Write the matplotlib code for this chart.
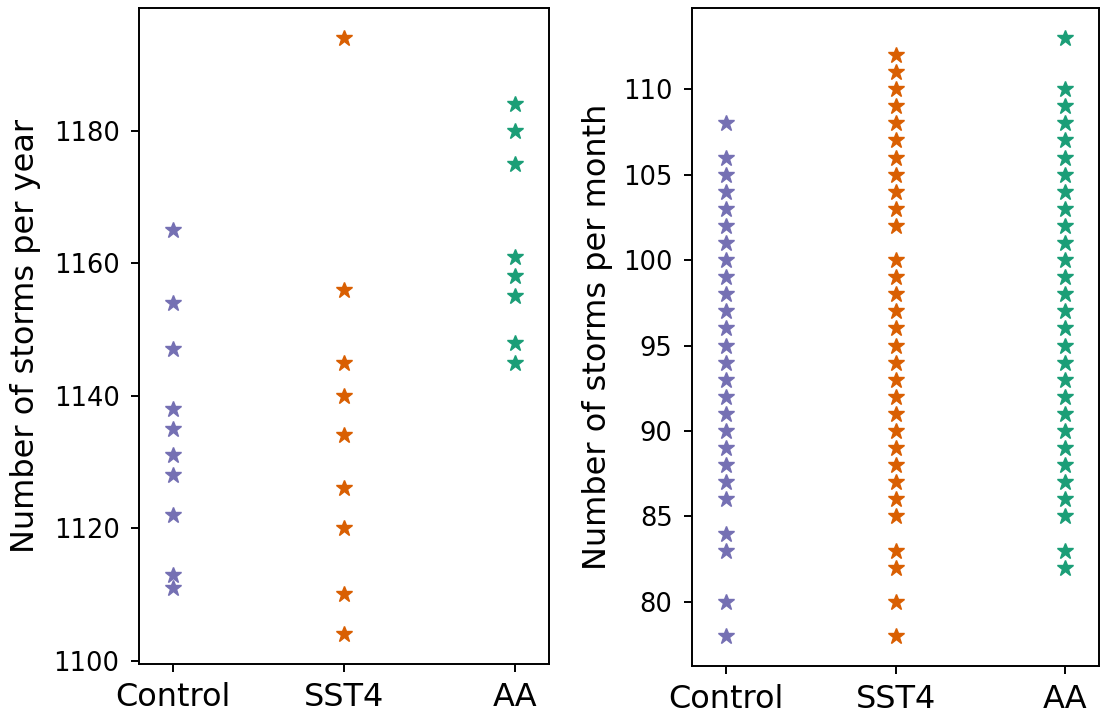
import matplotlib
matplotlib.use('Agg')
import matplotlib.pyplot as plt

runs = ['Control', 'SST4', 'AA']
colours = ['#7570b3', '#d95f02', '#1b9e77']

# storms per year
yearly_control = [1165, 1154, 1147, 1138, 1135, 1131, 1128, 1122, 1113, 1111]
yearly_sst4 = [1194, 1156, 1145, 1140, 1134, 1126, 1120, 1110, 1104]
yearly_aa = [1184, 1180, 1175, 1161, 1158, 1155, 1148, 1145]

# storms per month (distinct values visible)
monthly_control = [78, 80, 83, 84, 86, 87, 88, 89, 90, 91, 92, 93, 94, 95, 96,
                   97, 98, 99, 100, 101, 102, 103, 104, 105, 106, 108]
monthly_sst4 = [78, 80, 82, 83, 85, 86, 87, 88, 89, 90, 91, 92, 93, 94, 95, 96,
                97, 98, 99, 100, 102, 103, 104, 105, 106, 107, 108, 109, 110,
                111, 112]
monthly_aa = [82, 83, 85, 86, 87, 88, 89, 90, 91, 92, 93, 94, 95, 96, 97, 98,
              99, 100, 101, 102, 103, 104, 105, 106, 107, 108, 109, 110, 113]

plt.rcParams['axes.linewidth'] = 1.4
plt.rcParams['xtick.major.width'] = 1.4
plt.rcParams['ytick.major.width'] = 1.4
plt.rcParams['xtick.major.size'] = 6
plt.rcParams['ytick.major.size'] = 6
plt.rcParams['xtick.major.pad'] = 7
plt.rcParams['ytick.major.pad'] = 8

fig = plt.figure(figsize=(11.02, 7.13), dpi=100)
ax1 = fig.add_axes([0.1261, 0.0687, 0.372, 0.920])
ax2 = fig.add_axes([0.628, 0.0659, 0.3693, 0.9229])

yearly = [yearly_control, yearly_sst4, yearly_aa]
monthly = [monthly_control, monthly_sst4, monthly_aa]

for i, (vals, c) in enumerate(zip(yearly, colours)):
    ax1.plot([i] * len(vals), vals, '*', color=c, markersize=12, linestyle='none')
for i, (vals, c) in enumerate(zip(monthly, colours)):
    ax2.plot([i] * len(vals), vals, '*', color=c, markersize=12, linestyle='none')

for ax in (ax1, ax2):
    ax.set_xticks(range(3))
    ax.set_xticklabels(runs, fontsize=23)
    ax.set_xlim(-0.2, 2.2)
    ax.tick_params(axis='y', labelsize=18.5)

ax1.set_ylabel('Number of storms per year', fontsize=23)
ax2.set_ylabel('Number of storms per month', fontsize=23)
ax1.yaxis.set_label_coords(-0.24, 0.5)
ax2.yaxis.set_label_coords(-0.195, 0.5)

fig.savefig('out.png', dpi=100)
